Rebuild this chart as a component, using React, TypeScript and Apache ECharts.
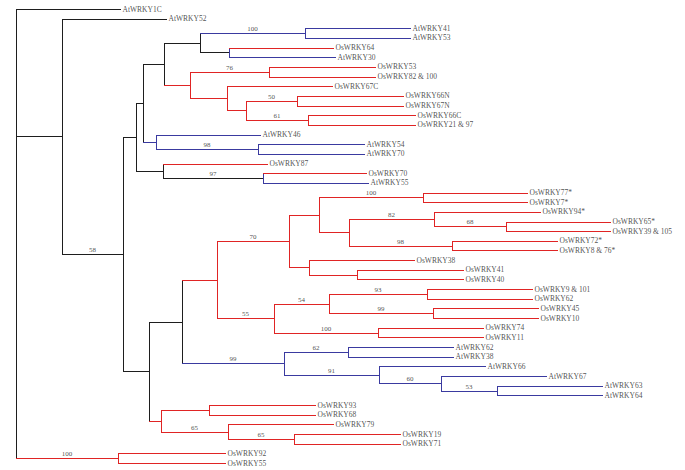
import React, { useEffect, useRef } from "react";
import * as echarts from "echarts";

// Phylogenetic tree data (Newick: name:branchLength, internal labels = bootstrap values)
const cladeAt41 = "((AtWRKY41:0.105,AtWRKY53:0.105)100:0.105,(OsWRKY64:0.104,AtWRKY30:0.106):0.029):0.036";
const cladeOs53 = "((OsWRKY53:0.106,OsWRKY82 & 100:0.106)76:0.079,(OsWRKY67C:0.105,((OsWRKY66N:0.106,OsWRKY67N:0.106)50:0.051,(OsWRKY66C:0.107,OsWRKY21 & 97:0.107)61:0.062):0.019):0.037):0.026";
const cladeAt46 = "(AtWRKY46:0.104,(AtWRKY54:0.106,AtWRKY70:0.106)98:0.102):0.013";
const cladeOs87 = "(OsWRKY87:0.104,(OsWRKY70:0.103,AtWRKY55:0.105)97:0.100):0.027";
const cladeOs77 = "((OsWRKY77*:0.104,OsWRKY7*:0.104)100:0.104,((OsWRKY94*:0.106,(OsWRKY65*:0.104,OsWRKY39 & 105:0.104)68:0.072)82:0.085,(OsWRKY72*:0.105,OsWRKY8 & 76*:0.105)98:0.103):0.030):0.030";
const cladeOs38 = "(OsWRKY38:0.105,(OsWRKY41:0.106,OsWRKY40:0.106):0.048):0.020";
const cladeOs9 = "(((OsWRKY9 & 101:0.105,OsWRKY62:0.105)93:0.098,(OsWRKY45:0.105,OsWRKY10:0.105)99:0.104)54:0.055,(OsWRKY74:0.105,OsWRKY11:0.105)100:0.104)55:0.057";
const cladeAt62 = "((AtWRKY62:0.105,AtWRKY38:0.105)62:0.064,(AtWRKY66:0.106,(AtWRKY67:0.105,(AtWRKY63:0.105,AtWRKY64:0.105)53:0.056)60:0.062)91:0.095)99:0.102";
const cladeOs93 = "((OsWRKY93:0.106,OsWRKY68:0.106):0.048,(OsWRKY79:0.105,(OsWRKY19:0.106,OsWRKY71:0.106)65:0.066)65:0.067):0.012";
const cladeOs92 = "(OsWRKY92:0.107,OsWRKY55:0.107)100:0.102";

const newick =
  "(AtWRKY1C:0.104,(AtWRKY52:0.104,(((" + "(" + cladeAt41 + "," + cladeOs53 + "):0.021," + cladeAt46 + "):0.007," + cladeOs87 + "):0.013," +
  "(((" + "(" + cladeOs77 + "," + cladeOs38 + ")70:0.072," + cladeOs9 + "):0.035," + cladeAt62 + "):0.033," + cladeOs93 + "):0.026)58:0.061):0.046," +
  cladeOs92 + ");";

// leaves drawn as outgroup (black) rather than by species
const outgroupLeaves = ["AtWRKY1C", "AtWRKY52"];

const speciesColors: Record<string, string> = { Os: "#e02424", At: "#3a3aa0", mixed: "#1e1e1e" };

type TNode = { name: string; len: number; children: TNode[]; x: number; y: number; sp: string; vsp: string };

function parseNewick(s: string): TNode {
  let i = 0;
  function parseNode(): TNode {
    const node: TNode = { name: "", len: 0, children: [], x: 0, y: 0, sp: "", vsp: "" };
    if (s[i] === "(") {
      i++;
      node.children.push(parseNode());
      while (s[i] === ",") {
        i++;
        node.children.push(parseNode());
      }
      i++;
    }
    let name = "";
    while (i < s.length && !":,);".includes(s[i])) name += s[i++];
    node.name = name.trim();
    if (s[i] === ":") {
      i++;
      let num = "";
      while (i < s.length && !",);".includes(s[i])) num += s[i++];
      node.len = parseFloat(num);
    }
    return node;
  }
  return parseNode();
}

function buildTree() {
  const root = parseNewick(newick);
  let leafIdx = 0;
  const layout = (n: TNode, x: number) => {
    n.x = x;
    if (!n.children.length) {
      n.y = leafIdx++;
      n.sp = outgroupLeaves.includes(n.name) ? "mixed" : n.name.slice(0, 2);
      n.vsp = n.sp;
    } else {
      n.children.forEach((c) => layout(c, x + c.len));
      n.y = (n.children[0].y + n.children[n.children.length - 1].y) / 2;
      const s = new Set(n.children.map((c) => c.sp));
      n.sp = s.size === 1 ? [...s][0] : "mixed";
      const allLeaves = n.children.every((c) => !c.children.length);
      n.vsp = n.sp === "mixed" && allLeaves && s.has("At") ? "At" : n.sp;
    }
  };
  layout(root, 0);
  const segs: any[] = [];
  const leaves: any[] = [];
  const boots: any[] = [];
  const walk = (n: TNode, parent: TNode | null) => {
    if (parent) segs.push([parent.x, n.y, n.x, n.y, n.sp]);
    if (n.children.length) {
      segs.push([n.x, n.children[0].y, n.x, n.children[n.children.length - 1].y, n.vsp]);
      if (n.name && parent) boots.push({ name: n.name, value: [(parent.x + n.x) / 2, n.y] });
      n.children.forEach((c) => walk(c, n));
    } else {
      leaves.push({ name: n.name, value: [n.x, n.y] });
    }
  };
  walk(root, null);
  return { segs, leaves, boots, nLeaves: leafIdx };
}

export default function App() {
  const ref = useRef<HTMLDivElement>(null);
  useEffect(() => {
    if (!ref.current) return;
    const chart = echarts.init(ref.current, undefined, { renderer: "svg" });
    const { segs, leaves, boots, nLeaves } = buildTree();
    const snap = (v: number) => Math.round(v) + 0.5;
    chart.setOption({
      animation: false,
      backgroundColor: "#ffffff",
      grid: { left: 16, right: 69, top: 9, bottom: 7 },
      xAxis: { type: "value", min: 0, max: 0.6, show: false },
      yAxis: { type: "value", min: 0, max: nLeaves - 1, inverse: true, show: false },
      series: [
        {
          type: "custom",
          data: segs,
          silent: true,
          z: 1,
          encode: { x: [0, 2], y: [1, 3] },
          renderItem: (params: any, api: any) => {
            const p1 = api.coord([api.value(0), api.value(1)]);
            const p2 = api.coord([api.value(2), api.value(3)]);
            const key = segs[params.dataIndex][4];
            return {
              type: "line",
              shape: { x1: snap(p1[0]), y1: snap(p1[1]), x2: snap(p2[0]), y2: snap(p2[1]) },
              style: { stroke: speciesColors[key] || speciesColors.mixed, lineWidth: 1, lineCap: "square" },
            };
          },
        },
        {
          type: "scatter",
          data: leaves,
          symbolSize: 1,
          itemStyle: { color: "rgba(0,0,0,0)" },
          label: {
            show: true,
            position: "right",
            distance: 2,
            formatter: "{b}",
            fontFamily: "Liberation Serif",
            fontSize: 7.5,
            color: "#222222",
          },
          silent: true,
          z: 2,
        },
        {
          type: "scatter",
          data: boots,
          symbolSize: 1,
          itemStyle: { color: "rgba(0,0,0,0)" },
          label: {
            show: true,
            position: "top",
            distance: 0,
            formatter: "{b}",
            fontFamily: "Liberation Serif",
            fontSize: 7,
            color: "#222222",
          },
          silent: true,
          z: 2,
        },
      ],
    });
    return () => chart.dispose();
  }, []);
  return <div ref={ref} style={{ position: "absolute", left: 0, top: 0, width: 685, height: 470 }} />;
}
